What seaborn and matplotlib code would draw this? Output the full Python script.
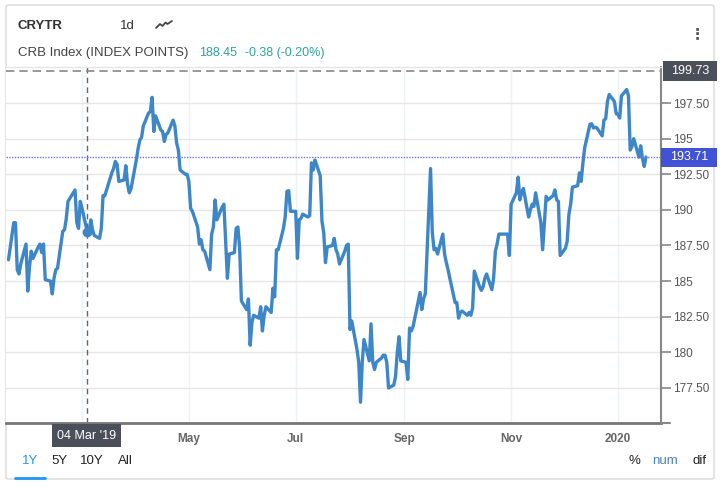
import numpy as np
import pandas as pd
import matplotlib
matplotlib.use("Agg")
import matplotlib.pyplot as plt
from matplotlib.patches import FancyBboxPatch, Rectangle
from matplotlib.lines import Line2D
import seaborn as sns

# ---------------- data ----------------
values_jan_apr = [
    186.5, 189.1, 189.1, 185.8, 185.5, 186.2, 187.6, 184.3, 186.0, 187.1,
    186.6, 187.4, 187.6, 187.0, 187.6, 185.1, 185.0, 184.1, 185.2, 185.8,
    185.9, 188.5, 188.6, 189.4, 190.6, 190.8, 191.4, 189.1, 188.7, 190.6,
    190.1, 188.45, 188.4, 189.3, 188.6, 188.2, 188.0, 188.7, 191.0, 191.0,
    191.4, 192.6, 192.9, 193.4, 193.2, 192.0, 192.1, 193.1, 191.8, 191.2,
    191.5, 193.5, 194.3, 194.9, 195.1, 195.9, 196.8, 196.9, 197.9, 195.5,
    196.6, 195.6, 195.5, 194.8, 195.3, 195.4,
]
values_apr_aug = [
    196.3, 195.9, 194.7, 194.2, 192.8, 192.5, 192.5, 192.0, 190.1, 189.9,
    188.8, 187.6, 187.9, 187.2, 187.1, 185.8, 188.3, 188.8, 190.7, 189.3,
    190.2, 190.4, 187.8, 185.2, 186.9, 187.0, 188.7, 188.8, 187.3, 183.6,
    183.0, 183.75, 180.5, 182.1, 182.6, 182.4, 183.2, 181.5, 182.6, 183.2,
    182.8, 184.5, 183.9, 187.2, 187.2, 188.7, 189.5, 191.3, 191.35, 189.9,
    189.9, 186.6, 189.3, 189.4, 189.7, 189.5, 189.6, 193.3, 192.8, 193.5,
    192.4, 189.2, 188.4, 186.3, 187.4, 187.5, 188.0, 187.2,
]
values_aug_nov = [
    186.9, 186.2, 187.1, 187.5, 187.6, 181.6, 182.2, 180.2, 179.3, 176.5,
    179.3, 180.9, 179.4, 182.0, 179.3, 178.8, 179.3, 179.6, 179.8, 179.8,
    179.3, 177.5, 177.7, 178.3, 180.0, 181.1, 179.4, 179.3, 178.1, 181.7,
    181.5, 181.8, 183.6, 184.2, 183.0, 183.75, 184.1, 192.9, 188.4, 187.2,
    187.3, 186.9, 188.3, 186.9, 186.3, 185.8, 185.2, 183.5, 183.5, 182.4,
    182.8, 182.9, 182.6, 182.8, 182.6, 183.1, 185.7, 184.6, 184.35, 184.6,
    185.2, 185.5, 184.4, 185.2, 187.1, 187.6, 188.3,
]
values_nov_jan = [
    188.3, 188.3, 188.3, 186.8, 190.4, 191.2, 192.3, 190.7, 191.2, 191.5,
    189.5, 190.0, 190.4, 190.25, 191.2, 189.1, 187.2, 189.1, 190.95, 190.7,
    191.0, 191.4, 190.7, 190.6, 186.8, 187.3, 187.8, 189.7, 190.4, 191.6,
    191.7, 192.6, 192.0, 193.3, 194.35, 196.0, 196.05, 195.75, 195.8, 195.75,
    195.2, 196.3, 196.4, 197.6, 198.1, 197.6, 196.75, 196.7, 196.45, 198.0,
    198.45, 198.0, 194.2, 194.45, 195.0, 193.7, 194.5, 193.6, 193.05, 193.71,
]
end_date = "2020-01-17"

tick_dates = ["2019-03-01", "2019-05-01", "2019-07-01", "2019-09-01",
              "2019-11-01", "2020-01-01"]
tick_labels = ["", "May", "Jul", "Sep", "Nov", "2020"]
y_ticks = [177.5, 180, 182.5, 185, 187.5, 190, 192.5, 195, 197.5]

symbol = "CRYTR"
interval = "1d"
series_name = "CRB Index (INDEX POINTS)"
head_value = "188.45"
head_change = "-0.38 (-0.20%)"
cross_date = "2019-03-04"
cross_label = "04 Mar '19"
cross_value = 199.73
last_value = 193.71
ranges = ["1Y", "5Y", "10Y", "All"]
modes = ["%", "num", "dif"]

values = values_jan_apr + values_apr_aug + values_aug_nov + values_nov_jan
dates = pd.bdate_range(end=end_date, periods=len(values))
df = pd.DataFrame({"date": dates, "value": values})

# ---------------- figure ----------------
sns.set_theme(style="white")
plt.rcParams["font.family"] = ["Liberation Sans", "DejaVu Sans"]

W, H = 720, 488
fig = plt.figure(figsize=(W / 100, H / 100), dpi=100)
fig.patch.set_facecolor("white")


def fx(px):
    return px / W


def fy(py):
    return 1 - py / H


ax = fig.add_axes([fx(6), fy(423), fx(661) - fx(6), fy(67) - fy(423)])
ax.set_facecolor("white")

LINE = "#3d87c8"
sns.lineplot(data=df, x="date", y="value", ax=ax, color=LINE, linewidth=2.4,
             solid_joinstyle="round", solid_capstyle="round")

ax.set_xlim(pd.Timestamp("2019-01-16 14:00"), pd.Timestamp("2020-01-25 14:00"))
ax.set_ylim(175.04, 200.03)

# grid
ax.set_yticks(y_ticks)
ax.set_xticks(pd.to_datetime(tick_dates))
ax.grid(axis="y", color="#e6e6e6", linewidth=1)
ax.grid(axis="x", color="#edf2f6", linewidth=1)
ax.set_axisbelow(True)


def fmt(v):
    return f"{int(v)}" if float(v).is_integer() else f"{v:.2f}"


ax.yaxis.tick_right()
ax.set_yticklabels([fmt(v) for v in y_ticks])
ax.tick_params(axis="y", direction="out", length=7, width=1.2, color="#888888",
               pad=2, labelsize=8.5, labelcolor="#555555", right=True, left=False)
ax.set_xticklabels(tick_labels, fontweight="bold", color="#666666")
ax.tick_params(axis="x", length=0, pad=7, labelsize=8.5)
ax.set_xlabel("")
ax.set_ylabel("")

for s in ["left", "top"]:
    ax.spines[s].set_visible(False)
ax.spines["right"].set_color("#888888")
ax.spines["right"].set_linewidth(1.5)
ax.spines["bottom"].set_color("#777777")
ax.spines["bottom"].set_linewidth(2)

# crosshair + last value line
cd = pd.Timestamp(cross_date)
ax.axvline(cd, color="#666666", linestyle=(0, (4, 3)), linewidth=1)
ax.axhline(cross_value, color="#888888", linestyle=(0, (5, 3)), linewidth=1.2)
ax.axhline(last_value, color="#6f72f2", linestyle=(0, (1, 1)), linewidth=1)
cv = df.loc[df["date"] == cd, "value"].values
if len(cv):
    ax.plot([cd], [cv[0]], marker="o", markersize=6, color=LINE, zorder=5)

# value boxes on the right
to_fig = fig.transFigure.inverted()


def ybox(value, color, label, x0, x1, h):
    ydisp = ax.transData.transform((ax.get_xlim()[0], value))
    yf = to_fig.transform(ydisp)[1]
    hh = h / H
    fig.add_artist(Rectangle((fx(x0), yf - hh / 2), fx(x1) - fx(x0), hh,
                             transform=fig.transFigure, facecolor=color,
                             edgecolor="none", zorder=10))
    fig.text(fx((x0 + x1) / 2), yf, label, ha="center", va="center",
             color="white", fontsize=9, zorder=11)


ybox(cross_value, "#4a4f5a", fmt(cross_value), 663, 717, 20)
ybox(last_value, "#4152d6", f"{last_value:.2f}", 661, 717, 19)

# crosshair date box
fig.add_artist(Rectangle((fx(52), fy(447)), fx(121) - fx(52), fy(424) - fy(447),
                         transform=fig.transFigure, facecolor="#4a4f5a",
                         edgecolor="none", zorder=10))
fig.text(fx(86.5), fy(436), cross_label, ha="center", va="center",
         color="white", fontsize=9, zorder=11)

# header
fig.text(fx(18), fy(26), symbol, fontsize=9.5, fontweight="bold", color="#333333",
         va="center")
fig.text(fx(120), fy(26), interval, fontsize=9.5, color="#333333", va="center")
fig.add_artist(Line2D([fx(156), fx(160), fx(162.5), fx(165.5), fx(167.5), fx(172)],
                      [fy(28), fy(24), fy(26), fy(22.5), fy(24), fy(21)],
                      transform=fig.transFigure, color="#444444", linewidth=1.3))
fig.text(fx(18), fy(53), series_name, fontsize=9.5, color="#444444", va="center")
fig.text(fx(199), fy(53), head_value, fontsize=9, color="#2aa59f", va="center")
fig.text(fx(245), fy(53), head_change, fontsize=9, color="#2aa59f", va="center")
fig.text(fx(697), fy(34), "\u22ee", fontsize=11, fontweight="bold", color="#555555",
         va="center", ha="center", family="DejaVu Sans")

# separator under header
fig.add_artist(Line2D([fx(6), fx(714)], [fy(67), fy(67)], transform=fig.transFigure,
                      color="#e6e6e6", linewidth=1))
# small tick at the bottom-right corner
fig.add_artist(Line2D([fx(661), fx(670)], [fy(423), fy(423)], transform=fig.transFigure,
                      color="#888888", linewidth=1.5))

# range buttons
range_x = [30, 59, 92, 125]
for lab, xc in zip(ranges, range_x):
    fig.text(fx(xc), fy(461), lab, fontsize=9.5, ha="center", va="center",
             color="#2196f3" if lab == "1Y" else "#222222")
fig.add_artist(Line2D([fx(15), fx(45)], [fy(478), fy(478)], transform=fig.transFigure,
                      color="#2196f3", linewidth=2))
mode_x = [634, 665.5, 700]
for lab, xc in zip(modes, mode_x):
    fig.text(fx(xc), fy(461), lab, fontsize=9.5, ha="center", va="center",
             color="#4a7fc1" if lab == "num" else "#222222")

# outer border
fig.add_artist(FancyBboxPatch((fx(6), fy(479)), fx(714) - fx(6), fy(5) - fy(479),
                              boxstyle="round,pad=0,rounding_size=0.004",
                              transform=fig.transFigure, facecolor="none",
                              edgecolor="#d9d9d9", linewidth=1, zorder=0))

fig.savefig("out.png", dpi=100, facecolor="white")
